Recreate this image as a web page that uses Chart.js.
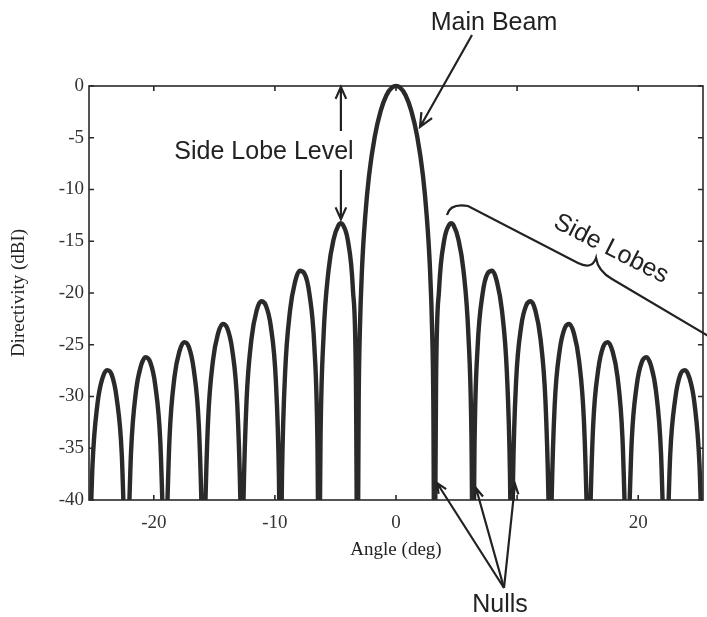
<!DOCTYPE html>
<html>
<head>
<meta charset="utf-8">
<title>Array pattern</title>
<script src="https://cdn.jsdelivr.net/npm/chart.js@4.4.0/dist/chart.umd.min.js"></script>
<style>
  html, body { margin: 0; padding: 0; background: #fff; }
  #wrap { width: 707px; height: 617px; }
</style>
</head>
<body>
<div id="wrap"><canvas id="patternChart" width="707" height="617"></canvas></div>
<script>
// Angle (deg) / directivity (dBI), lobe by lobe.
// The nulls fall below the -40 dB floor, they are given as -50 and get clipped.
const angles = [
  -25.44, -25.31, -25.06, -24.65, -24.23, -23.85, -23.47, -23.06, -22.64, -22.39,
  -22.26, -22.13, -21.88, -21.47, -21.05, -20.67, -20.29, -19.88, -19.46, -19.21,
  -19.08, -18.95, -18.70, -18.29, -17.87, -17.49, -17.11, -16.70, -16.28, -16.03,
  -15.90, -15.77, -15.52, -15.11, -14.69, -14.31, -13.93, -13.52, -13.10, -12.85,
  -12.72, -12.59, -12.34, -11.93, -11.51, -11.13, -10.75, -10.34, -9.92, -9.67,
  -9.54, -9.41, -9.16, -8.75, -8.33, -7.95, -7.57, -7.16, -6.74, -6.49,
  -6.36, -6.23, -5.98, -5.57, -5.15, -4.77, -4.55, -4.39, -3.98, -3.56, -3.31,
  -3.18, -3.08, -2.99, -2.80, -2.54, -2.23, -1.75, -1.27, -0.80, -0.32, 0,
  0.32, 0.80, 1.27, 1.75, 2.23, 2.54, 2.80, 2.99, 3.08,
  3.18, 3.31, 3.56, 3.98, 4.39, 4.55, 4.77, 5.15, 5.57, 5.98, 6.23,
  6.36, 6.49, 6.74, 7.16, 7.57, 7.95, 8.33, 8.75, 9.16, 9.41,
  9.54, 9.67, 9.92, 10.34, 10.75, 11.13, 11.51, 11.93, 12.34, 12.59,
  12.72, 12.85, 13.10, 13.52, 13.93, 14.31, 14.69, 15.11, 15.52, 15.77,
  15.90, 16.03, 16.28, 16.70, 17.11, 17.49, 17.87, 18.29, 18.70, 18.95,
  19.08, 19.21, 19.46, 19.88, 20.29, 20.67, 21.05, 21.47, 21.88, 22.13,
  22.26, 22.39, 22.64, 23.06, 23.47, 23.85, 24.23, 24.65, 25.06, 25.31, 25.44
];
const directivity = [
  -50, -46.0, -36.6, -30.7, -28.2, -27.45, -27.9, -30.2, -35.7, -45.0,
  -50, -44.9, -35.4, -29.5, -27.0, -26.2, -26.7, -28.9, -34.4, -43.6,
  -50, -43.5, -34.0, -28.1, -25.6, -24.75, -25.2, -27.4, -32.8, -42.0,
  -50, -41.9, -32.4, -26.5, -23.9, -23.0, -23.4, -25.5, -30.9, -40.1,
  -50, -39.9, -30.4, -24.4, -21.7, -20.8, -21.2, -23.2, -28.5, -37.6,
  -50, -37.4, -27.8, -21.7, -18.9, -17.85, -18.1, -20.0, -25.2, -34.2,
  -50, -33.8, -24.1, -17.8, -14.8, -13.5, -13.26, -13.4, -14.9, -19.6, -28.3,
  -50, -30.2, -23.9, -17.5, -12.6, -8.69, -4.86, -2.42, -0.91, -0.14, 0,
  -0.14, -0.91, -2.42, -4.86, -8.69, -12.6, -17.5, -23.9, -30.2,
  -50, -28.3, -19.6, -14.9, -13.4, -13.26, -13.5, -14.8, -17.8, -24.1, -33.8,
  -50, -34.2, -25.2, -20.0, -18.1, -17.85, -18.9, -21.7, -27.8, -37.4,
  -50, -37.6, -28.5, -23.2, -21.2, -20.8, -21.7, -24.4, -30.4, -39.9,
  -50, -40.1, -30.9, -25.5, -23.4, -23.0, -23.9, -26.5, -32.4, -41.9,
  -50, -42.0, -32.8, -27.4, -25.2, -24.75, -25.6, -28.1, -34.0, -43.5,
  -50, -43.6, -34.4, -28.9, -26.7, -26.2, -27.0, -29.5, -35.4, -44.9,
  -50, -45.0, -35.7, -30.2, -27.9, -27.45, -28.2, -30.7, -36.6, -46.0, -50
];

const xTicks = [-20, -10, 0, 10, 20];
const xTickLabels = ['-20', '-10', '0', '', '20'];   // "10" is not printed in the original
const yTicks = [0, -5, -10, -15, -20, -25, -30, -35, -40];

const serif = "'Liberation Serif', 'Times New Roman', serif";
const sans = "'Liberation Sans', Arial, Helvetica, sans-serif";
const ink = '#2a2a2a';

function arrow(ctx, x1, y1, x2, y2, head) {
    const ang = Math.atan2(y2 - y1, x2 - x1);
    ctx.beginPath();
    ctx.moveTo(x1, y1);
    ctx.lineTo(x2, y2);
    ctx.moveTo(x2 - head * Math.cos(ang - 0.42), y2 - head * Math.sin(ang - 0.42));
    ctx.lineTo(x2, y2);
    ctx.lineTo(x2 - head * Math.cos(ang + 0.42), y2 - head * Math.sin(ang + 0.42));
    ctx.stroke();
}

// box, inward ticks and the hand drawn notes
const frameAndNotes = {
    id: 'frameAndNotes',
    afterDraw(chart) {
        const { ctx, chartArea: a, scales: { x, y } } = chart;
        ctx.save();
        ctx.strokeStyle = ink;
        ctx.lineWidth = 1.6;
        ctx.strokeRect(a.left, a.top, a.right - a.left, a.bottom - a.top);

        ctx.beginPath();
        xTicks.forEach(v => {
            const px = x.getPixelForValue(v);
            ctx.moveTo(px, a.bottom); ctx.lineTo(px, a.bottom - 5);
            ctx.moveTo(px, a.top); ctx.lineTo(px, a.top + 5);
        });
        yTicks.forEach(v => {
            const py = y.getPixelForValue(v);
            ctx.moveTo(a.left, py); ctx.lineTo(a.left + 5, py);
            ctx.moveTo(a.right, py); ctx.lineTo(a.right - 5, py);
        });
        ctx.stroke();

        ctx.fillStyle = '#222';
        ctx.strokeStyle = '#222';
        ctx.font = '25px ' + sans;
        ctx.textAlign = 'center';
        ctx.textBaseline = 'alphabetic';

        // Main Beam
        ctx.fillText('Main Beam', 494, 30);
        ctx.lineWidth = 2.2;
        arrow(ctx, 472, 35, 420, 127, 15);

        // Side Lobe Level: from 0 dB down to the highest side lobe left of the main beam
        let peak = -1;
        angles.forEach((ang, i) => {
            if (ang > -7 && ang < -3.2 && (peak < 0 || directivity[i] > directivity[peak])) peak = i;
        });
        const sx = x.getPixelForValue(angles[peak]);
        ctx.fillText('Side Lobe Level', 264, 159);
        arrow(ctx, sx, 131, sx, y.getPixelForValue(0) + 1, 13);
        arrow(ctx, sx, 170, sx, y.getPixelForValue(directivity[peak]) - 4, 13);

        // Side Lobes with the brace
        ctx.beginPath();
        ctx.moveTo(447, 215);
        ctx.quadraticCurveTo(450, 203, 468, 206);
        ctx.lineTo(578, 263);
        ctx.quadraticCurveTo(592, 270, 596, 258);
        ctx.quadraticCurveTo(598, 271, 612, 279);
        ctx.lineTo(720, 343);
        ctx.stroke();
        ctx.save();
        ctx.translate(611, 249);
        ctx.rotate(27 * Math.PI / 180);
        ctx.textBaseline = 'middle';
        ctx.fillText('Side Lobes', 0, 0);
        ctx.restore();

        // Nulls
        ctx.fillText('Nulls', 500, 612);
        arrow(ctx, 504, 588, 437, 483, 11);
        arrow(ctx, 504, 588, 476, 488, 11);
        arrow(ctx, 504, 588, 515, 484, 11);
        ctx.restore();
    }
};

new Chart(document.getElementById('patternChart').getContext('2d'), {
    type: 'line',
    data: {
        datasets: [{
            data: angles.map((a, i) => ({ x: a, y: directivity[i] })),
            borderColor: ink,
            borderWidth: 4.4,
            pointRadius: 0,
            cubicInterpolationMode: 'monotone',
            fill: false,
            clip: { left: 0, right: 0, top: 3, bottom: 0 }
        }]
    },
    options: {
        responsive: false,
        animation: false,
        layout: { padding: { top: 86, right: 4, bottom: 52, left: 0 } },
        plugins: {
            legend: { display: false },
            tooltip: { enabled: false }
        },
        scales: {
            x: {
                type: 'linear',
                min: -25.35,
                max: 25.35,
                afterFit: s => { s.height = 65; },
                afterBuildTicks: s => { s.ticks = xTicks.map(v => ({ value: v })); },
                grid: { display: false, drawTicks: false },
                border: { display: false },
                ticks: {
                    autoSkip: false,
                    maxRotation: 0,
                    padding: 12,
                    color: '#333',
                    font: { family: serif, size: 19 },
                    callback: v => xTickLabels[xTicks.indexOf(v)]
                },
                title: {
                    display: true,
                    text: 'Angle (deg)',
                    color: '#222',
                    font: { family: serif, size: 19 },
                    padding: { top: 0, bottom: 4 }
                }
            },
            y: {
                min: -40,
                max: 0,
                afterFit: s => { s.width = 89; },
                afterBuildTicks: s => { s.ticks = yTicks.map(v => ({ value: v })); },
                grid: { display: false, drawTicks: false },
                border: { display: false },
                ticks: {
                    padding: 5,
                    color: '#333',
                    font: { family: serif, size: 19 }
                },
                title: {
                    display: true,
                    text: 'Directivity (dBI)',
                    color: '#222',
                    font: { family: serif, size: 19 },
                    padding: { top: 8, bottom: 0 }
                }
            }
        }
    },
    plugins: [frameAndNotes]
});
</script>
</body>
</html>
